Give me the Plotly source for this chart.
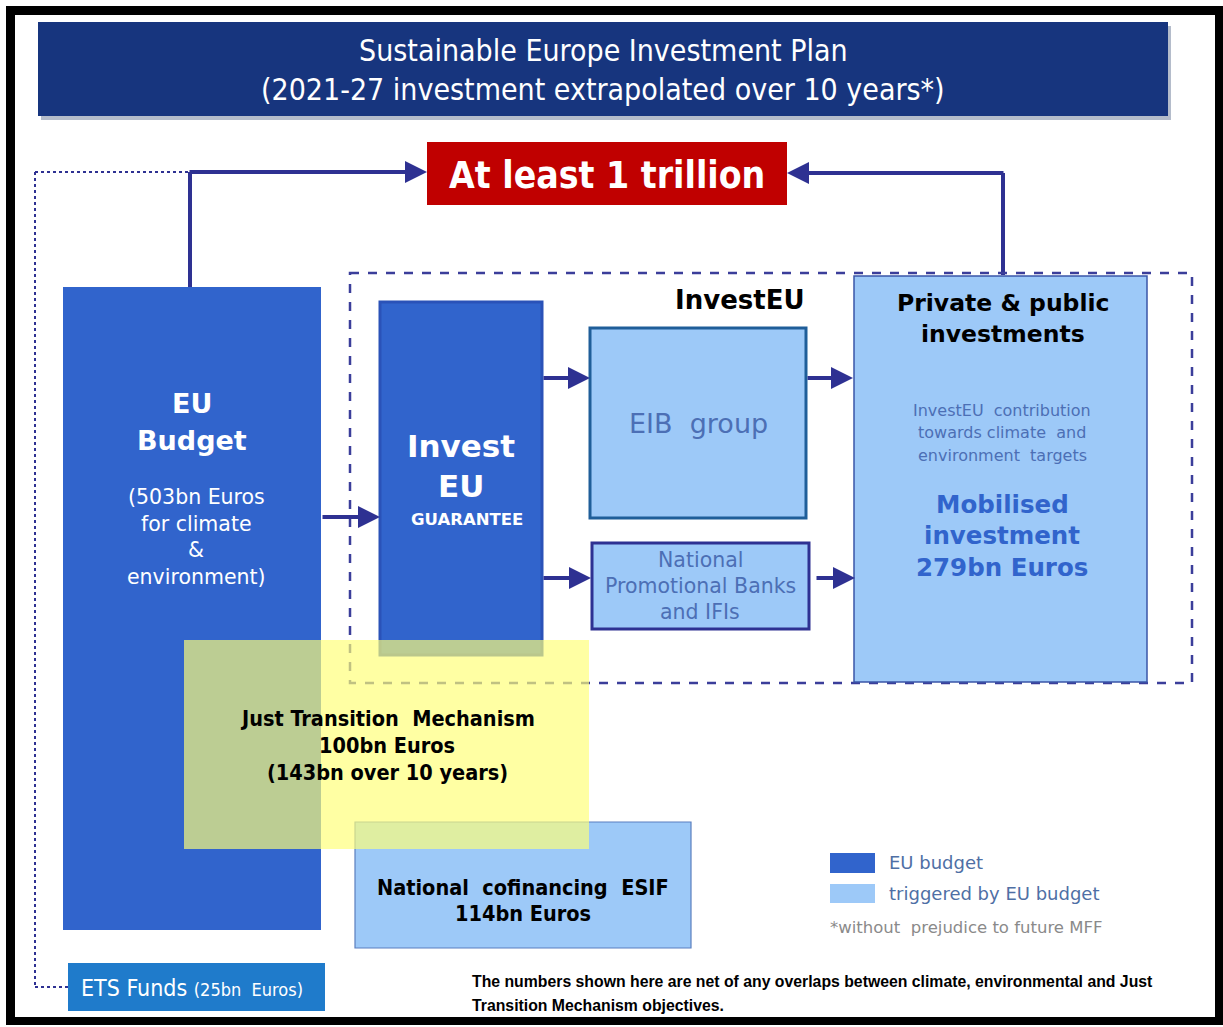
import plotly.graph_objects as go

# ---------------- data (text content and amounts) ----------------
title_lines = ["Sustainable Europe Investment Plan",
               "(2021-27 investment extrapolated over 10 years*)"]
total_label = "At least 1 trillion"
eu_budget_head = ["EU", "Budget"]
eu_budget_body = ["(503bn Euros", "for climate", "&", "environment)"]
investeu_label = "InvestEU"
guarantee_head = ["Invest", "EU"]
guarantee_sub = "GUARANTEE"
eib_label = "EIB  group"
npb_lines = ["National", "Promotional Banks", "and IFIs"]
private_head = ["Private & public", "investments"]
private_note = ["InvestEU  contribution", "towards climate  and", "environment  targets"]
private_amount = ["Mobilised", "investment", "279bn Euros"]
jtm_lines = ["Just Transition  Mechanism", "100bn Euros", "(143bn over 10 years)"]
cofin_lines = ["National  cofinancing  ESIF", "114bn Euros"]
ets_label = "ETS Funds"
ets_amount = "(25bn  Euros)"
legend_items = ["EU budget", "triggered by EU budget"]
legend_note = "*without  prejudice to future MFF"
footnote_lines = ["The numbers shown here are net of any overlaps between climate, environmental and Just",
                  "Transition Mechanism objectives."]

# ---------------- styles ----------------
NAVY = "#17357E"
RED = "#C00000"
BLUE = "#3164CC"
LIGHT = "#9DC9F8"
ARROW = "#2E3192"
ETS = "#1F7BCB"
TXTBLUE = "#4C6FB5"
FONT = "DejaVu Sans, Verdana, sans-serif"
NARROW = "DejaVu Sans Condensed, DejaVu Sans, sans-serif"
CAL = "Liberation Sans Narrow, Arial Narrow, Liberation Sans, sans-serif"

W, H = 1223, 1027
fig = go.Figure()
shapes = []
ann = []


def rect(x0, y0, x1, y1, fill, line=None, lw=0, dash=None):
    d = dict(type="rect", xref="x", yref="y", x0=x0, y0=y0, x1=x1, y1=y1,
             fillcolor=fill, layer="above",
             line=dict(color=line if line else "rgba(0,0,0,0)", width=lw))
    if dash:
        d["line"]["dash"] = dash
    shapes.append(d)


def seg(x0, y0, x1, y1, color=ARROW, width=4, dash=None):
    d = dict(type="line", xref="x", yref="y", x0=x0, y0=y0, x1=x1, y1=y1,
             layer="above", line=dict(color=color, width=width))
    if dash:
        d["line"]["dash"] = dash
    shapes.append(d)


def arrow(x0, y0, x1, y1, width=4):
    ann.append(dict(x=x1, y=y1, ax=x0, ay=y0, xref="x", yref="y", axref="x", ayref="y",
                    showarrow=True, arrowhead=2, arrowsize=1.1, arrowwidth=width,
                    arrowcolor=ARROW, text=""))


def text(x, y, s, size, color="black", bold=False, family=FONT, xanchor="center"):
    ann.append(dict(x=x, y=y, xref="x", yref="y", text=f"<b>{s}</b>" if bold else s,
                    showarrow=False, xanchor=xanchor, yanchor="middle",
                    font=dict(size=size, color=color, family=family)))


# frame
rect(6, 6, 1223, 1025, "black")
rect(15, 15, 1215, 1017, "white")

# title
rect(41, 26, 1171, 120, "#b4bccb")
rect(38, 22, 1168, 116, NAVY)
text(603, 50, title_lines[0], 30, "white", family=NARROW)
text(603, 89, title_lines[1], 30, "white", family=NARROW)

# total
rect(427, 142, 787, 205, RED)
text(607, 175, total_label, 37, "white", bold=True, family=NARROW)

# dotted ETS connector
seg(35, 172, 190, 172, ARROW, 2, "dot")
seg(35, 172, 35, 987, ARROW, 2, "dot")
seg(35, 987, 68, 987, ARROW, 2, "dot")

# arrows to total
seg(190, 287, 190, 172)
arrow(188, 172, 427, 172)
seg(1003, 275, 1003, 173)
arrow(1005, 173, 787, 173)

# EU budget box
rect(63, 287, 321, 930, BLUE)
text(192, 403, eu_budget_head[0], 27, "white", bold=True)
text(192, 440, eu_budget_head[1], 27, "white", bold=True)
for i, s in enumerate(eu_budget_body):
    text(196, 497 + i * 26.5, s, 20.5, "white")

# InvestEU dashed box
rect(350, 273, 1192, 683, "rgba(0,0,0,0)", "#3B3E9A", 2.5, "dash")
text(740, 300, investeu_label, 26, "black", bold=True)

# guarantee
rect(380, 302, 542, 655, BLUE, "#2A52B8", 3)
text(461, 446, guarantee_head[0], 31, "white", bold=True)
text(461, 486, guarantee_head[1], 31, "white", bold=True)
text(467, 519, guarantee_sub, 16.5, "white", bold=True)
arrow(321, 517, 380, 517)

# EIB
rect(590, 328, 806, 518, LIGHT, "#1F5E99", 3)
text(698, 423, eib_label, 27, TXTBLUE)
arrow(542, 378, 590, 378)
arrow(806, 378, 853, 378)

# NPB
rect(592, 543, 809, 629, LIGHT, ARROW, 3)
for i, s in enumerate(npb_lines):
    text(700, 560 + i * 26, s, 20.5, TXTBLUE)
arrow(542, 578, 591, 578)
arrow(815, 578, 855, 578)

# private
rect(854, 276, 1147, 682, LIGHT, "#3A55A8", 1.5)
text(1003, 303, private_head[0], 23.5, "black", bold=True)
text(1003, 334, private_head[1], 23.5, "black", bold=True)
for i, s in enumerate(private_note):
    text(1002, 410 + i * 22.5, s, 16, TXTBLUE)
for i, s in enumerate(private_amount):
    text(1002, 504 + i * 31.5, s, 24.5, BLUE, bold=True)

# national cofinancing
rect(355, 822, 691, 948, LIGHT, "#5a7fbf", 1.2)
text(523, 887, cofin_lines[0], 21.5, "black", bold=True, family=NARROW)
text(523, 913, cofin_lines[1], 21.5, "black", bold=True, family=NARROW)

# JTM yellow (translucent, on top)
rect(184, 640, 589, 849, "rgba(255,255,120,0.68)")
text(387, 718, jtm_lines[0], 21.5, "black", bold=True, family=NARROW)
text(387, 745, jtm_lines[1], 21.5, "black", bold=True, family=NARROW)
text(387, 772, jtm_lines[2], 21.5, "black", bold=True, family=NARROW)

# legend
rect(830, 853, 875, 873, BLUE)
rect(830, 884, 875, 903, LIGHT)
text(887, 862, legend_items[0], 18, "#4F6FA5", xanchor="left")
text(887, 893, legend_items[1], 18, "#4F6FA5", xanchor="left")
text(828, 927, legend_note, 16.5, "#8a8a8a", xanchor="left")

# ETS
rect(68, 963, 325, 1011, ETS)
ann.append(dict(x=79, y=988, xref="x", yref="y", showarrow=False, xanchor="left", yanchor="middle",
                text=f"{ets_label} <span style='font-size:18px'>{ets_amount}</span>",
                font=dict(size=23, color="white", family=NARROW)))

# footnote
text(470, 981, footnote_lines[0], 15.8, "black", bold=True, family=CAL, xanchor="left")
text(470, 1005, footnote_lines[1], 15.8, "black", bold=True, family=CAL, xanchor="left")

fig.update_layout(
    width=W, height=H, margin=dict(l=0, r=0, t=0, b=0),
    paper_bgcolor="white", plot_bgcolor="white",
    xaxis=dict(range=[0, W], visible=False, fixedrange=True),
    yaxis=dict(range=[H, 0], visible=False, fixedrange=True),
    shapes=shapes, annotations=ann, showlegend=False,
)
fig.write_html("out.html", config={"displayModeBar": False},
               post_script="document.body.style.margin='0';document.body.style.overflow='hidden';")
